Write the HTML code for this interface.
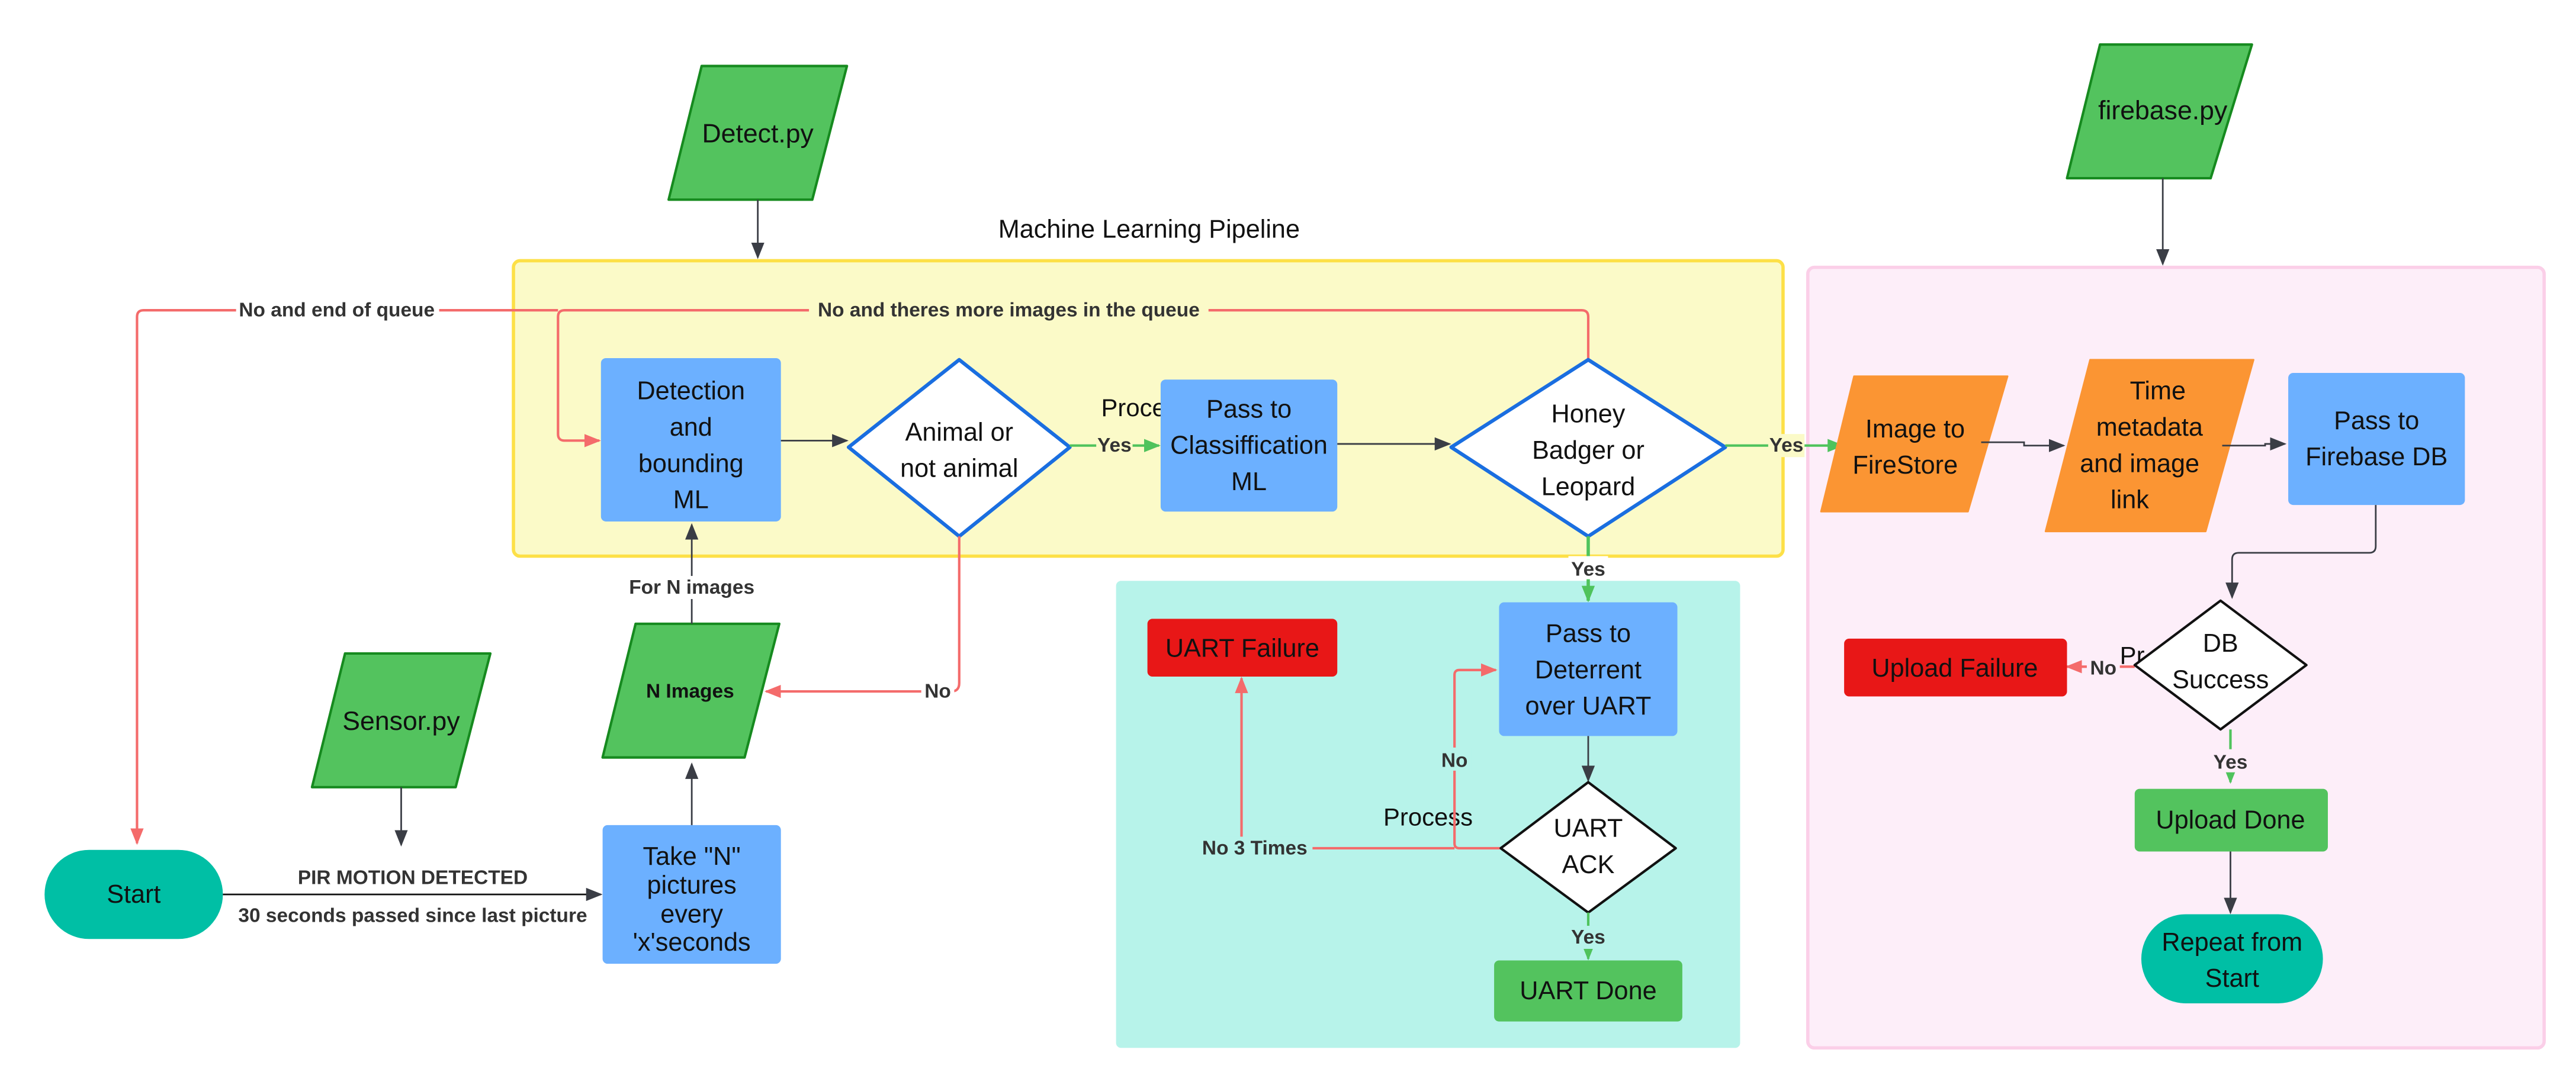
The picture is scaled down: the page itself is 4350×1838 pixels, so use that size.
<!DOCTYPE html>
<html><head><meta charset="utf-8"><style>
html,body{margin:0;padding:0;background:#fff;}
svg{display:block;}
text{font-family:"Liberation Sans",sans-serif;}
.t{font-size:15.5px;fill:#111;text-anchor:middle;dominant-baseline:central;}
.l{font-size:12px;font-weight:bold;fill:#333;text-anchor:middle;dominant-baseline:central;}
</style></head><body>
<svg width="4350" height="1838" viewBox="0 0 1560.3 659.3" preserveAspectRatio="none" xmlns="http://www.w3.org/2000/svg">
<defs>
<marker id="ak" markerWidth="10" markerHeight="8" refX="9" refY="4" orient="auto" markerUnits="userSpaceOnUse"><path d="M0,0 L10,4 L0,8 Z" fill="#3a3d45"/></marker>
<marker id="ar" markerWidth="10" markerHeight="8" refX="9" refY="4" orient="auto" markerUnits="userSpaceOnUse"><path d="M0,0 L10,4 L0,8 Z" fill="#f46b6b"/></marker>
<marker id="ag" markerWidth="10" markerHeight="8" refX="9" refY="4" orient="auto" markerUnits="userSpaceOnUse"><path d="M0,0 L10,4 L0,8 Z" fill="#4fc35c"/></marker>
</defs>

<rect x="311" y="158" width="769" height="179" rx="4" fill="#fbfac8" stroke="#fde047" stroke-width="2"/>
<rect x="1095" y="162" width="446" height="473" rx="4" fill="#fdeef9" stroke="#fbcfe8" stroke-width="2"/>
<rect x="676" y="352" width="378" height="283" rx="3" fill="#b7f3ea"/>
<text x="696" y="139" class="t" style="font-size:15.5px">Machine Learning Pipeline</text>

<path d="M962,218 V192 Q962,188 958,188 H342 Q338,188 338,192 V263 Q338,267 342,267 H363" fill="none" stroke="#f46b6b" stroke-width="1.5" marker-end="url(#ar)"/>
<path d="M338,188 H87 Q83,188 83,192 V511" fill="none" stroke="#f46b6b" stroke-width="1.5" marker-end="url(#ar)"/>
<rect x="143" y="181" width="123" height="14" fill="#fff"/>
<text x="204" y="188" class="l">No and end of queue</text>
<rect x="490" y="181" width="242" height="14" fill="#fbfac8"/>
<text x="611" y="188" class="l">No and theres more images in the queue</text>

<polygon points="425,40 513,40 492,121 405,121" fill="#53c35e" stroke="#168a1f" stroke-width="1.5" stroke-linejoin="round"/>
<text x="459" y="81" class="t" style="font-size:16px">Detect.py</text>
<line x1="459" y1="121" x2="459" y2="156" stroke="#3a3d45" stroke-width="1" marker-end="url(#ak)"/>

<polygon points="1272,27 1364,27 1339,108 1252,108" fill="#53c35e" stroke="#168a1f" stroke-width="1.5" stroke-linejoin="round"/>
<text x="1310" y="67" class="t" style="font-size:16px">firebase.py</text>
<line x1="1310" y1="108" x2="1310" y2="160" stroke="#3a3d45" stroke-width="1" marker-end="url(#ak)"/>

<rect x="364" y="217" width="109" height="99" rx="3" fill="#6cb0ff"/>
<text x="418.5" y="237" class="t">Detection</text>
<text x="418.5" y="259" class="t">and</text>
<text x="418.5" y="281" class="t">bounding</text>
<text x="418.5" y="303" class="t">ML</text>
<line x1="473" y1="267" x2="513" y2="267" stroke="#3a3d45" stroke-width="1" marker-end="url(#ak)"/>

<polygon points="581,218 648,271 581,325 514,271" fill="#fff" stroke="#1a6ee0" stroke-width="2.2" stroke-linejoin="round"/>
<text x="581" y="262" class="t">Animal or</text>
<text x="581" y="284" class="t">not animal</text>

<text x="667" y="247" style="font-size:15px;fill:#111;dominant-baseline:central">Proce</text>
<line x1="648" y1="270" x2="702" y2="270" stroke="#4fc35c" stroke-width="1.5" marker-end="url(#ag)"/>
<rect x="664" y="263" width="22" height="14" fill="#fbfac8"/>
<text x="675" y="270" class="l">Yes</text>

<rect x="703" y="230" width="107" height="80" rx="3" fill="#6cb0ff"/>
<text x="756.5" y="248" class="t">Pass to</text>
<text x="756.5" y="270" class="t">Classiffication</text>
<text x="756.5" y="292" class="t">ML</text>
<line x1="810" y1="269" x2="878" y2="269" stroke="#3a3d45" stroke-width="1" marker-end="url(#ak)"/>

<polygon points="962,218 1045,271 962,325 879,271" fill="#fff" stroke="#1a6ee0" stroke-width="2.2" stroke-linejoin="round"/>
<text x="962" y="251" class="t">Honey</text>
<text x="962" y="273" class="t">Badger or</text>
<text x="962" y="295" class="t">Leopard</text>

<line x1="1045" y1="270" x2="1116" y2="270" stroke="#4fc35c" stroke-width="1.5" marker-end="url(#ag)"/>
<rect x="1071" y="263" width="22" height="14" fill="#fbfac8"/>
<text x="1082" y="270" class="l">Yes</text>

<polygon points="1123,228 1216,228 1192,310 1103,310" fill="#fb9533" stroke="#fb9533" stroke-width="1" stroke-linejoin="round"/>
<text x="1160" y="260" class="t">Image to</text>
<text x="1154" y="282" class="t">FireStore</text>
<path d="M1200,268 H1226 V270 H1250" fill="none" stroke="#3a3d45" stroke-width="1" marker-end="url(#ak)"/>

<polygon points="1266,218 1365,218 1336,322 1239,322" fill="#fb9533" stroke="#fb9533" stroke-width="1" stroke-linejoin="round"/>
<text x="1307" y="237" class="t">Time</text>
<text x="1302" y="259" class="t">metadata</text>
<text x="1296" y="281" class="t">and image</text>
<text x="1290" y="303" class="t">link</text>
<path d="M1346,270 H1372 V269 H1384" fill="none" stroke="#3a3d45" stroke-width="1" marker-end="url(#ak)"/>

<rect x="1386" y="226" width="107" height="80" rx="3" fill="#6cb0ff"/>
<text x="1439.5" y="255" class="t">Pass  to</text>
<text x="1439.5" y="277" class="t">Firebase DB</text>
<path d="M1439,306 V331 Q1439,335 1435,335 H1356 Q1352,335 1352,339 V362" fill="none" stroke="#3a3d45" stroke-width="1" marker-end="url(#ak)"/>

<text x="1284" y="397" style="font-size:15px;fill:#111;dominant-baseline:central">Pr</text>
<line x1="1293" y1="404" x2="1252" y2="404" stroke="#f46b6b" stroke-width="1.5" marker-end="url(#ar)"/>
<rect x="1264" y="397" width="20" height="14" fill="#fdeef9"/>
<text x="1274" y="405" class="l">No</text>
<polygon points="1345,364 1397,403 1345,442 1293,403" fill="#fff" stroke="#111" stroke-width="1.5" stroke-linejoin="round"/>
<text x="1345" y="390" class="t">DB</text>
<text x="1345" y="412" class="t">Success</text>
<rect x="1117" y="387" width="135" height="35" rx="3" fill="#e81717"/>
<text x="1184" y="405" class="t">Upload Failure</text>

<line x1="1351" y1="442" x2="1351" y2="474" stroke="#4fc35c" stroke-width="1.5" marker-end="url(#ag)"/>
<rect x="1339" y="454" width="24" height="14" fill="#fdeef9"/>
<text x="1351" y="462" class="l">Yes</text>
<rect x="1293" y="478" width="117" height="38" rx="3" fill="#53c35e"/>
<text x="1351" y="497" class="t">Upload Done</text>
<line x1="1351" y1="516" x2="1351" y2="553" stroke="#3a3d45" stroke-width="1" marker-end="url(#ak)"/>
<rect x="1297" y="554" width="110" height="54" rx="27" fill="#00bfa5"/>
<text x="1352" y="571" class="t">Repeat from</text>
<text x="1352" y="593" class="t">Start</text>

<rect x="27" y="515" width="108" height="54" rx="27" fill="#00bfa5"/>
<text x="81" y="542" class="t">Start</text>

<polygon points="209,396 297,396 276,477 189,477" fill="#53c35e" stroke="#168a1f" stroke-width="1.5" stroke-linejoin="round"/>
<text x="243" y="437" class="t" style="font-size:16px">Sensor.py</text>
<line x1="243" y1="477" x2="243" y2="512" stroke="#3a3d45" stroke-width="1" marker-end="url(#ak)"/>

<line x1="135" y1="542" x2="364" y2="542" stroke="#111" stroke-width="1" marker-end="url(#ak)"/>
<text x="250" y="532" class="l">PIR MOTION DETECTED</text>
<text x="250" y="555" class="l">30 seconds passed since last picture</text>

<rect x="365" y="500" width="108" height="84" rx="3" fill="#6cb0ff"/>
<text x="419" y="519" class="t">Take "N"</text>
<text x="419" y="536.5" class="t">pictures</text>
<text x="419" y="554" class="t">every</text>
<text x="419" y="571" class="t">'x'seconds</text>
<line x1="419" y1="500" x2="419" y2="463" stroke="#3a3d45" stroke-width="1" marker-end="url(#ak)"/>

<polygon points="385,378 472,378 451,459 365,459" fill="#53c35e" stroke="#168a1f" stroke-width="1.5" stroke-linejoin="round"/>
<text x="418" y="419" class="l" style="fill:#111">N Images</text>
<line x1="419" y1="378" x2="419" y2="318" stroke="#3a3d45" stroke-width="1" marker-end="url(#ak)"/>
<rect x="376" y="349" width="86" height="14" fill="#fff"/>
<text x="419" y="356" class="l">For N images</text>

<path d="M581,325 V414 Q581,419 576,419 H464" fill="none" stroke="#f46b6b" stroke-width="1.5" marker-end="url(#ar)"/>
<rect x="558" y="412" width="20" height="14" fill="#fff"/>
<text x="568" y="419" class="l">No</text>

<line x1="962" y1="325" x2="962" y2="364" stroke="#4fc35c" stroke-width="2" marker-end="url(#ag)"/>
<rect x="950" y="337" width="24" height="14" fill="#fff"/>
<text x="962" y="345" class="l">Yes</text>

<rect x="695" y="375" width="115" height="35" rx="3" fill="#e81717"/>
<text x="752.5" y="393" class="t">UART Failure</text>

<rect x="908" y="365" width="108" height="81" rx="3" fill="#6cb0ff"/>
<text x="962" y="384" class="t">Pass to</text>
<text x="962" y="406" class="t">Deterrent</text>
<text x="962" y="428" class="t">over UART</text>
<line x1="962" y1="446" x2="962" y2="473" stroke="#3a3d45" stroke-width="1" marker-end="url(#ak)"/>

<text x="865" y="495" class="t" style="font-size:15px">Process</text>
<path d="M909,514 H884 Q881,514 881,511 V409 Q881,406 884,406 H906" fill="none" stroke="#f46b6b" stroke-width="1.5" marker-end="url(#ar)"/>
<rect x="871" y="453" width="20" height="14" fill="#b7f3ea"/>
<text x="881" y="461" class="l">No</text>
<path d="M881,514 H752 V411" fill="none" stroke="#f46b6b" stroke-width="1.5" marker-end="url(#ar)"/>
<rect x="725" y="507" width="70" height="14" fill="#b7f3ea"/>
<text x="760" y="514" class="l">No 3 Times</text>

<polygon points="962,474 1015,514 962,553 909,514" fill="#fff" stroke="#111" stroke-width="1.5" stroke-linejoin="round"/>
<text x="962" y="502" class="t">UART</text>
<text x="962" y="524" class="t">ACK</text>

<line x1="962" y1="553" x2="962" y2="581" stroke="#4fc35c" stroke-width="1.5" marker-end="url(#ag)"/>
<rect x="950" y="561" width="24" height="14" fill="#b7f3ea"/>
<text x="962" y="568" class="l">Yes</text>
<rect x="905" y="582" width="114" height="37" rx="3" fill="#53c35e"/>
<text x="962" y="600.5" class="t">UART Done</text>
</svg>
</body></html>
